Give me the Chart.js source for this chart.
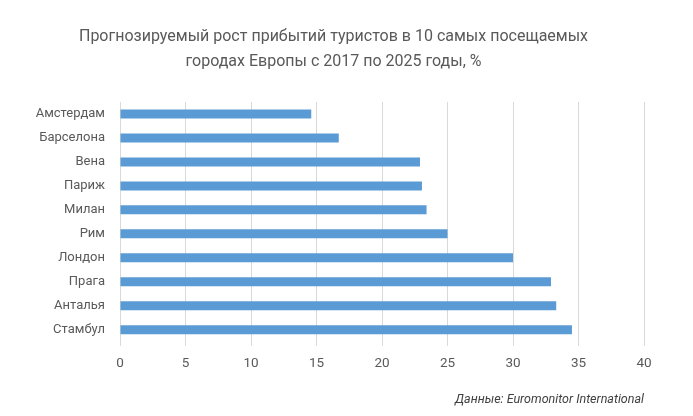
<!DOCTYPE html>
<html lang="ru">
<head>
    <meta charset="UTF-8">
    <script src="https://cdn.jsdelivr.net/npm/chart.js@4.4.0/dist/chart.umd.min.js"></script>
    <title>Рост прибытий туристов</title>
    <style>
        html, body { margin: 0; padding: 0; background: #fff; }
        #chart-box { width: 693px; height: 416px; }
    </style>
</head>
<body>
    <div id="chart-box">
        <canvas id="myChart" width="693" height="416"></canvas>
    </div>

    <script>
        // cities, top to bottom
        var cities = ['Амстердам', 'Барселона', 'Вена', 'Париж', 'Милан', 'Рим', 'Лондон', 'Прага', 'Анталья', 'Стамбул'];
        // growth 2017-2025, %
        var growth = [14.6, 16.7, 22.9, 23.05, 23.4, 25.0, 30.0, 32.9, 33.3, 34.5];
        var xMin = 0, xMax = 40, xStep = 5;

        var font = "'Roboto', sans-serif";
        var grey = '#595959';

        var ctx = document.getElementById('myChart').getContext('2d');
        var myChart = new Chart(ctx, {
            type: 'bar',
            data: {
                labels: cities,
                datasets: [{
                    data: growth,
                    backgroundColor: '#5b9bd5',
                    barPercentage: 0.75,
                    categoryPercentage: 0.5
                }]
            },
            options: {
                indexAxis: 'y',
                responsive: false,
                animation: false,
                layout: { padding: { left: 23, right: 49, top: 10, bottom: 9 } },
                plugins: {
                    legend: { display: false },
                    tooltip: { enabled: false },
                    title: {
                        display: true,
                        text: ['Прогнозируемый рост прибытий туристов в 10 самых посещаемых', 'городах Европы с 2017 по 2025 годы, %'],
                        color: grey,
                        font: { family: font, size: 16, weight: 'normal', lineHeight: 1.56 },
                        padding: { top: 15, bottom: 27 }
                    },
                    subtitle: {
                        display: true,
                        position: 'bottom',
                        align: 'end',
                        text: 'Данные: Euromonitor International',
                        color: '#404040',
                        font: { family: font, size: 12.5, style: 'italic' },
                        padding: { top: 10, bottom: 0 }
                    }
                },
                scales: {
                    x: {
                        min: xMin,
                        max: xMax,
                        ticks: { stepSize: xStep, color: grey, font: { family: font, size: 13.5 }, padding: 10 },
                        grid: { color: '#d9d9d9', drawTicks: true, tickLength: 4 },
                        border: { display: false }
                    },
                    y: {
                        ticks: { color: grey, font: { family: font, size: 13 }, padding: 15 },
                        grid: { display: false, drawTicks: false },
                        border: { display: false },
                        afterFit: function (scale) { scale.width = 97; }
                    }
                }
            }
        });
    </script>
</body>
</html>
